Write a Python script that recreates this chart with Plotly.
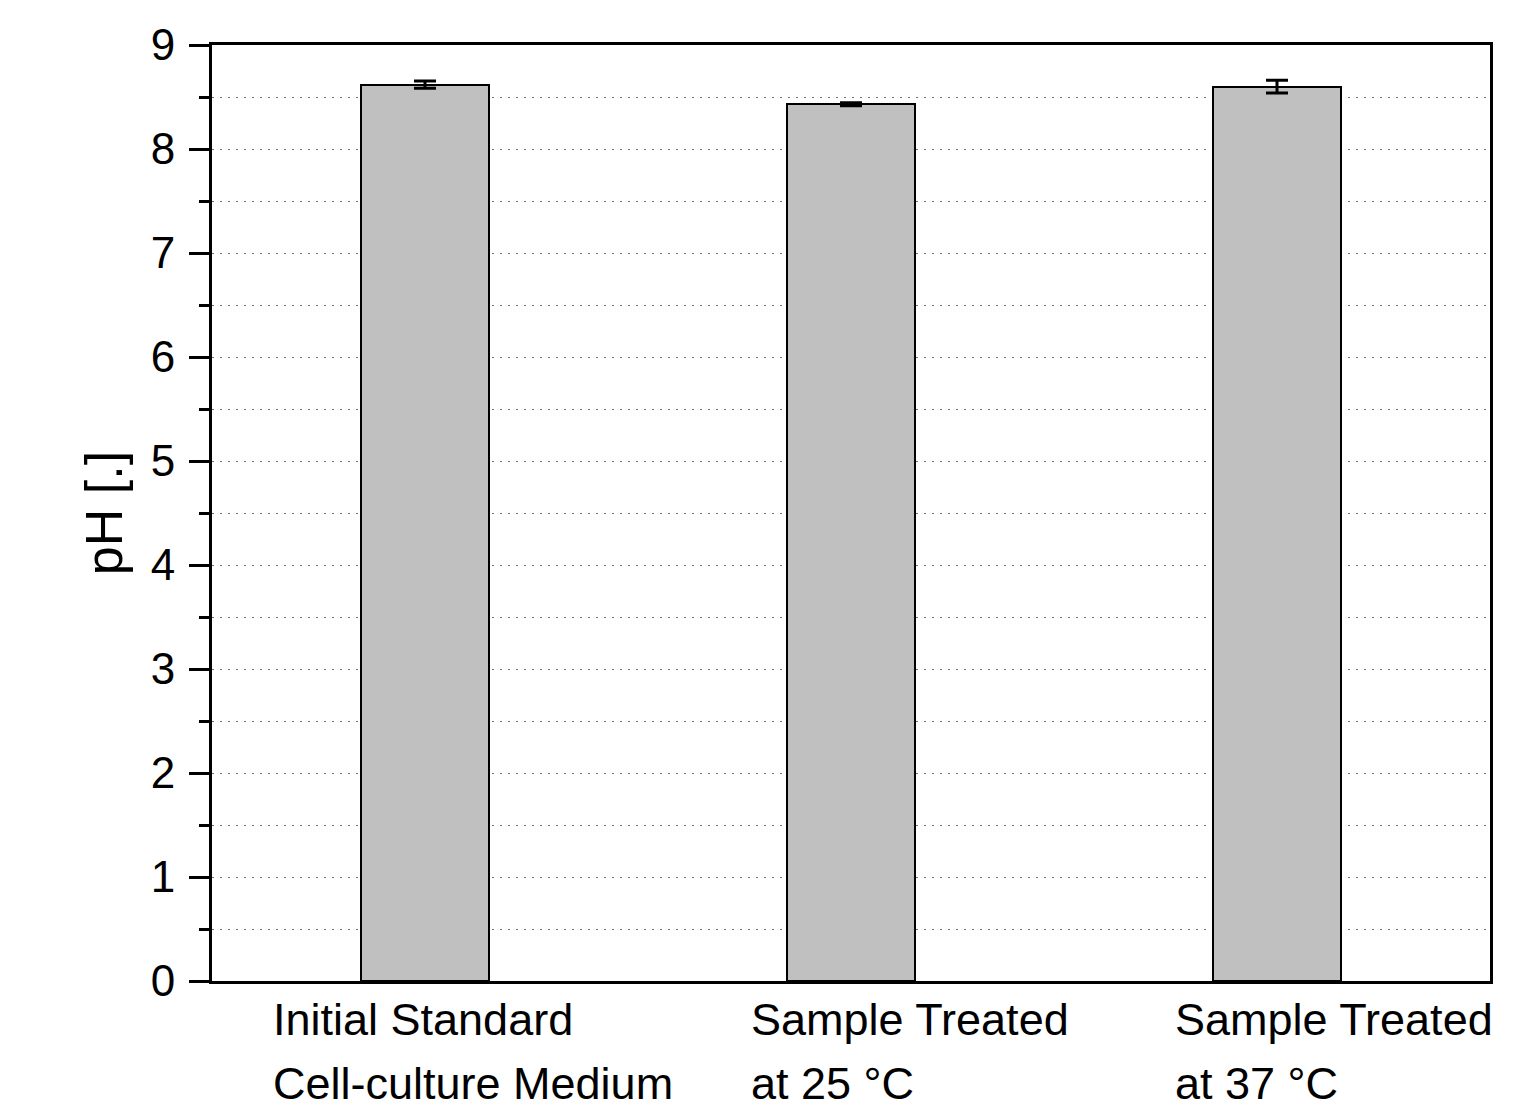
import plotly.graph_objects as go

categories = ["Initial Standard", "Sample Treated 25", "Sample Treated 37"]
label_line1 = ["Initial Standard", "Sample Treated", "Sample Treated"]
label_line2 = ["Cell-culture Medium", "at 25 °C", "at 37 °C"]
ph_values = [8.62, 8.43, 8.60]
ph_errors = [0.035, 0.015, 0.062]
y_ticks = [0, 1, 2, 3, 4, 5, 6, 7, 8, 9]

FONT = "Arial, Liberation Sans, sans-serif"

fig = go.Figure()
fig.add_trace(go.Bar(
    x=[0, 1, 2],
    y=ph_values,
    width=0.3,
    marker=dict(color="#C0C0C0", line=dict(color="black", width=2)),
    error_y=dict(type="data", array=ph_errors, visible=True,
                 color="black", thickness=3, width=11),
    showlegend=False,
))

# category labels (left aligned, two lines)
label_x = [-0.361, 0.761, 1.756]
for i in range(len(categories)):
    fig.add_annotation(x=label_x[i], y=-0.041, xref="x", yref="paper",
                       text=label_line1[i], showarrow=False,
                       xanchor="left", yanchor="middle",
                       font=dict(family=FONT, size=45, color="black"))
    fig.add_annotation(x=label_x[i], y=-0.110, xref="x", yref="paper",
                       text=label_line2[i], showarrow=False,
                       xanchor="left", yanchor="middle",
                       font=dict(family=FONT, size=45, color="black"))

fig.update_layout(
    width=1517, height=1091,
    margin=dict(l=204, r=35, t=35, b=118),
    paper_bgcolor="white", plot_bgcolor="white",
    font=dict(family=FONT, color="black"),
    bargap=0,
)
fig.update_xaxes(
    range=[-0.5, 2.5], showticklabels=False, ticks="",
    showgrid=False, zeroline=False,
    showline=True, linecolor="black", linewidth=3, mirror=True,
)
fig.update_yaxes(
    range=[0, 9], tickvals=y_ticks, ticks="outside", ticklen=20, tickwidth=3,
    tickcolor="black", tickfont=dict(family=FONT, size=44, color="black"),
    ticklabelstandoff=5,
    showgrid=True, gridcolor="#707070", gridwidth=1, griddash="2px,6px",
    minor=dict(dtick=0.5, ticks="outside", ticklen=10, tickwidth=3,
               tickcolor="black", showgrid=True, gridcolor="#707070",
               gridwidth=1, griddash="2px,6px"),
    zeroline=False,
    showline=True, linecolor="black", linewidth=3, mirror=True,
    title=dict(text="pH [.]", font=dict(family=FONT, size=52, color="black"),
               standoff=12),
)

fig.write_html("out.html")
